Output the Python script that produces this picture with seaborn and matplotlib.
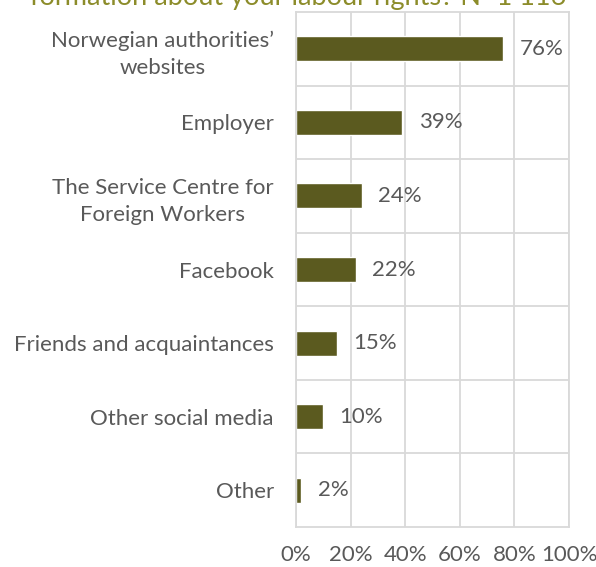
import matplotlib
matplotlib.use("Agg")
import matplotlib.pyplot as plt
import seaborn as sns
import pandas as pd
from matplotlib.ticker import FuncFormatter

sources = [
    "Norwegian authorities’\nwebsites",
    "Employer",
    "The Service Centre for\nForeign Workers",
    "Facebook",
    "Friends and acquaintances",
    "Other social media",
    "Other",
]
shares = [76, 39, 24, 22, 15, 10, 2]
x_ticks = [0, 20, 40, 60, 80, 100]
title_text = "formation about your labour rights? N=1 116"

sns.set_theme(style="white")
plt.rcParams["font.family"] = ["Lato", "DejaVu Sans"]

bar_color = "#5B5A1F"
text_gray = "#595959"
grid_gray = "#D9D9D9"
fs = 16

df = pd.DataFrame({"source": sources, "share": shares})

fig = plt.figure(figsize=(5.96, 5.67), dpi=100)
ax = fig.add_axes([296 / 596, 1 - 527 / 567, (569 - 296) / 596, (527 - 12) / 567])

sns.barplot(data=df, x="share", y="source", color=bar_color, width=0.34,
            saturation=1, ax=ax, orient="h")

ax.set_xlim(0, 100)
ax.set_xticks(x_ticks)
ax.xaxis.set_major_formatter(FuncFormatter(lambda v, p: f"{v:.0f}%"))
ax.set_xlabel("")
ax.set_ylabel("")
ax.grid(axis="x", color=grid_gray, linewidth=1.3)
ax.set_yticks([i + 0.5 for i in range(len(sources) - 1)], minor=True)
ax.grid(axis="y", which="major", visible=False)
ax.grid(axis="y", which="minor", color=grid_gray, linewidth=1.3)
ax.set_axisbelow(True)
for s in ax.spines.values():
    s.set_color(grid_gray)
    s.set_linewidth(1.3)

ax.tick_params(axis="x", length=0, pad=13, labelsize=fs, labelcolor=text_gray)
ax.tick_params(axis="y", which="both", length=0, pad=16, labelsize=fs, labelcolor=text_gray)
for lbl in ax.get_yticklabels():
    lbl.set_multialignment("center")
    lbl.set_linespacing(1.45)

for i, v in enumerate(shares):
    ax.text(v + 6, i, f"{v}%", va="center", ha="left",
            fontsize=fs, color=text_gray)

fig.text(30 / 596, 1 - 5 / 567, title_text, ha="left", va="baseline",
         fontsize=19.5, color="#8C8C2A")

fig.savefig("out.png", dpi=100)
